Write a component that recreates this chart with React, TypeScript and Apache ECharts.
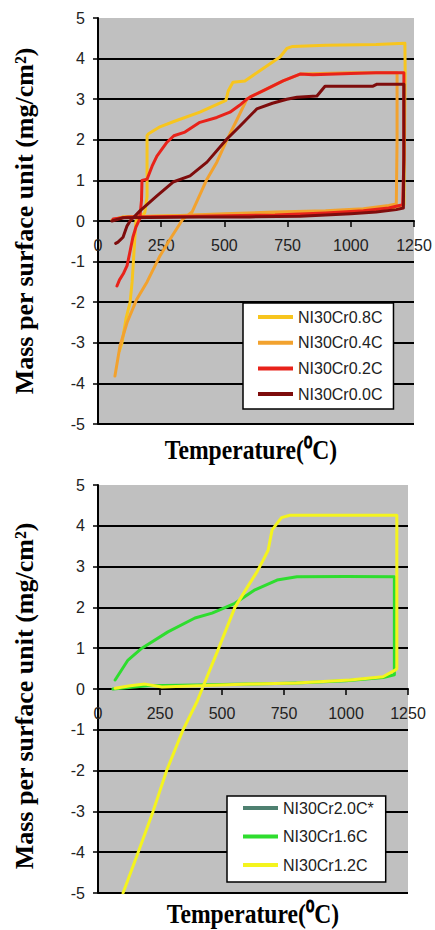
import React, { useEffect, useRef } from "react";
import * as echarts from "echarts";

// ---------- axis settings ----------
const TEMP_MIN = 0;
const TEMP_MAX = 1250;
const TEMP_STEP = 250;
const MASS_MIN = -5;
const MASS_MAX = 5;
const MASS_STEP = 1;

// ---------- chart 1 data (temperature °C, mass mg/cm²) ----------
const cr08Name = "NI30Cr0.8C";
const cr08T = [60, 100, 200, 400, 600, 800, 1000, 1150, 1210, 1215, 1214, 1100, 900, 770, 747, 720, 640, 581, 534, 515, 506, 403, 300, 245, 200, 194, 194, 185, 150, 142, 135, 127, 111, 95, 85];
const cr08M = [0.03, 0.1, 0.12, 0.14, 0.16, 0.18, 0.22, 0.3, 0.4, 3.7, 4.38, 4.35, 4.33, 4.3, 4.25, 4.04, 3.7, 3.45, 3.42, 3.2, 2.97, 2.68, 2.45, 2.32, 2.15, 2.1, 0.6, 0.2, 0.0, -0.8, -1.5, -2.0, -2.4, -3.0, -3.2];

const cr04Name = "NI30Cr0.4C";
const cr04T = [55, 100, 300, 500, 700, 900, 1050, 1150, 1180, 1183, 1183, 1000, 800, 732, 650, 601, 589, 550, 510, 470, 431, 372, 336, 290, 245, 194, 154, 115, 87, 67];
const cr04M = [0.02, 0.1, 0.13, 0.18, 0.22, 0.25, 0.3, 0.38, 0.42, 2.0, 3.65, 3.65, 3.62, 3.45, 3.2, 3.05, 3.0, 2.5, 2.0, 1.45, 1.03, 0.22, 0.05, -0.4, -0.86, -1.5, -1.92, -2.5, -3.08, -3.82];

const cr02Name = "NI30Cr0.2C";
const cr02T = [60, 120, 400, 700, 900, 1050, 1150, 1205, 1210, 1210, 1100, 1000, 850, 799, 732, 650, 601, 589, 560, 522, 470, 403, 344, 300, 273, 233, 214, 194, 174, 172, 165, 150, 138, 125, 115, 100, 85, 75];
const cr02M = [0.05, 0.1, 0.12, 0.15, 0.2, 0.25, 0.32, 0.4, 1.5, 3.65, 3.65, 3.63, 3.6, 3.62, 3.45, 3.2, 3.05, 3.0, 2.85, 2.68, 2.55, 2.43, 2.19, 2.1, 1.94, 1.6, 1.35, 1.03, 1.0, 0.5, 0.05, -0.15, -0.4, -0.8, -1.1, -1.3, -1.45, -1.6];

const cr00Name = "NI30Cr0.0C";
const cr00T = [55, 100, 400, 600, 800, 1000, 1100, 1180, 1208, 1210, 1210, 1104, 1088, 898, 866, 787, 747, 690, 628, 562, 510, 431, 364, 297, 233, 166, 127, 115, 99, 79, 70];
const cr00M = [0.0, 0.08, 0.1, 0.1, 0.12, 0.18, 0.22, 0.28, 0.32, 1.65, 3.37, 3.37, 3.32, 3.32, 3.08, 3.05, 3.0, 2.9, 2.76, 2.34, 2.02, 1.45, 1.11, 0.96, 0.62, 0.25, 0.0, -0.12, -0.4, -0.52, -0.55];

// ---------- chart 2 data ----------
const cr20Name = "NI30Cr2.0C*";
const cr20T: number[] = [];
const cr20M: number[] = [];

const cr16Name = "NI30Cr1.6C";
const cr16T = [60, 200, 400, 600, 800, 1000, 1150, 1195, 1195, 1000, 802, 722, 633, 552, 460, 391, 282, 177, 121, 69];
const cr16M = [0.0, 0.08, 0.1, 0.12, 0.15, 0.2, 0.28, 0.35, 2.75, 2.76, 2.75, 2.67, 2.43, 2.1, 1.86, 1.74, 1.4, 1.0, 0.71, 0.22];

const cr12Name = "NI30Cr1.2C";
const cr12T = [69, 130, 190, 258, 400, 613, 800, 1016, 1149, 1200, 1205, 1205, 1100, 900, 774, 740, 726, 702, 686, 666, 641, 613, 552, 484, 423, 400, 343, 278, 222, 161, 101];
const cr12M = [0.02, 0.08, 0.12, 0.05, 0.08, 0.12, 0.15, 0.22, 0.3, 0.47, 0.5, 4.26, 4.26, 4.26, 4.26, 4.2, 4.09, 3.9, 3.4, 3.16, 2.87, 2.6, 2.0, 0.96, 0.05, -0.3, -1.0, -1.98, -3.0, -4.02, -5.0];

const X_TITLE = "Temperature(⁰C)";
const Y_TITLE = "Mass per surface unit (mg/cm²)";

const zip = (t: number[], m: number[]) => t.map((v, i) => [v, m[i]]);

const SANS = '"Liberation Sans", Arial, sans-serif';
const SERIF = '"Liberation Serif", "Times New Roman", serif';

export default function App() {
  const ref = useRef<HTMLDivElement>(null);

  useEffect(() => {
    if (!ref.current) return;
    const chart = echarts.init(ref.current, undefined, { renderer: "svg" });

    const labelStyle = { color: "#222", fontFamily: SANS, fontSize: 16 };

    // x axis sits on the zero line: shift it up by the distance from the bottom to zero
    const makeX = (i: number, gridHeight: number) => ({
      type: "value",
      gridIndex: i,
      min: TEMP_MIN,
      max: TEMP_MAX,
      interval: TEMP_STEP,
      position: "bottom",
      offset: -gridHeight * (0 - MASS_MIN) / (MASS_MAX - MASS_MIN),
      axisLine: { show: true, onZero: false, lineStyle: { color: "#000", width: 2 } },
      axisTick: { show: true, length: 6, lineStyle: { color: "#000", width: 1.5 } },
      axisLabel: { ...labelStyle, margin: 16, formatter: (v: number) => String(v) },
      splitLine: { show: false },
    });
    const makeY = (i: number) => ({
      type: "value",
      gridIndex: i,
      min: MASS_MIN,
      max: MASS_MAX,
      interval: MASS_STEP,
      axisLine: { show: true, onZero: false, lineStyle: { color: "#000", width: 2 } },
      axisTick: { show: true, length: 5, lineStyle: { color: "#000", width: 1.5 } },
      axisLabel: { ...labelStyle, margin: 13, formatter: (v: number) => String(v) },
      splitLine: { show: true, showMaxLine: false, lineStyle: { color: "#000", width: 2 } },
    });

    const line = (name: string, t: number[], m: number[], color: string, idx: number) => ({
      type: "line",
      name,
      xAxisIndex: idx,
      yAxisIndex: idx,
      data: zip(t, m),
      showSymbol: false,
      symbol: "none",
      clip: true,
      lineStyle: { color, width: 3, join: "round", cap: "round" },
      itemStyle: { color },
    });

    const legendBase = {
      orient: "vertical",
      backgroundColor: "#fff",
      borderColor: "#000",
      borderWidth: 1.5,
      borderRadius: 0,
      icon: "rect",
      itemWidth: 35,
      itemHeight: 4,
      textStyle: { fontFamily: SANS, fontSize: 16, color: "#222", lineHeight: 18 },
    };

    const option = {
      animation: false,
      backgroundColor: "#fff",
      grid: [
        { left: 98, top: 18, width: 316, height: 406, show: true, backgroundColor: "#C0C0C0", borderWidth: 0 },
        { left: 98, top: 485, width: 310, height: 408, show: true, backgroundColor: "#C0C0C0", borderWidth: 0 },
      ],
      xAxis: [makeX(0, 406), makeX(1, 408)],
      yAxis: [makeY(0), makeY(1)],
      legend: [
        {
          ...legendBase,
          data: [cr08Name, cr04Name, cr02Name, cr00Name],
          left: 243,
          top: 303,
          padding: [5, 11, 6, 15],
          itemGap: 7.7,
        },
        {
          ...legendBase,
          data: [cr20Name, cr16Name, cr12Name],
          left: 227,
          top: 796,
          padding: [3, 12, 8, 16],
          itemGap: 10.5,
        },
      ],
      series: [
        line(cr08Name, cr08T, cr08M, "#F7C51E", 0),
        line(cr04Name, cr04T, cr04M, "#F2A22E", 0),
        line(cr02Name, cr02T, cr02M, "#E8221A", 0),
        line(cr00Name, cr00T, cr00M, "#7E0C0C", 0),
        line(cr20Name, cr20T, cr20M, "#4E8070", 1),
        line(cr16Name, cr16T, cr16M, "#2EDD2E", 1),
        line(cr12Name, cr12T, cr12M, "#F4F41E", 1),
      ],
      graphic: [
        {
          type: "text",
          x: 24,
          y: 221,
          rotation: Math.PI / 2,
          style: { text: Y_TITLE, fontFamily: SERIF, fontWeight: "bold", fontSize: 26, fill: "#000", align: "center", verticalAlign: "middle" },
        },
        {
          type: "text",
          x: 24,
          y: 696,
          rotation: Math.PI / 2,
          style: { text: Y_TITLE, fontFamily: SERIF, fontWeight: "bold", fontSize: 26, fill: "#000", align: "center", verticalAlign: "middle" },
        },
        {
          type: "text",
          x: 251,
          y: 449,
          scaleX: 0.875,
          style: { text: X_TITLE, fontFamily: SERIF, fontWeight: "bold", fontSize: 27, fill: "#000", align: "center", verticalAlign: "middle" },
        },
        {
          type: "text",
          x: 253,
          y: 913,
          scaleX: 0.875,
          style: { text: X_TITLE, fontFamily: SERIF, fontWeight: "bold", fontSize: 27, fill: "#000", align: "center", verticalAlign: "middle" },
        },
      ],
    };

    chart.setOption(option as any);
    return () => chart.dispose();
  }, []);

  return <div ref={ref} style={{ position: "absolute", left: 0, top: 0, width: 435, height: 930 }} />;
}
